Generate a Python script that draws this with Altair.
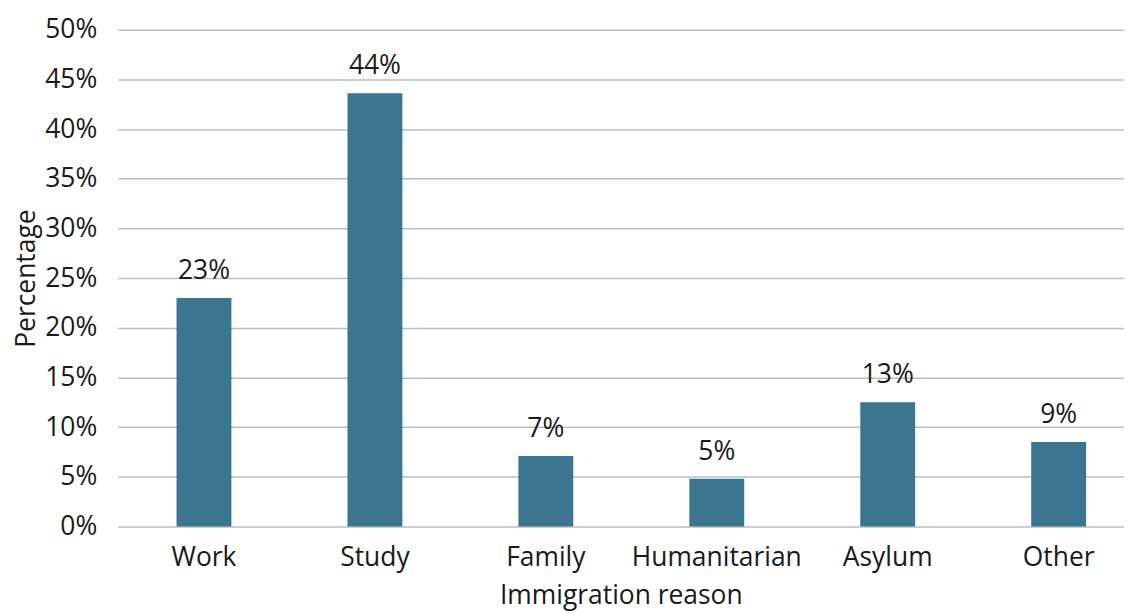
import altair as alt
import pandas as pd

reasons = ["Work", "Study", "Family", "Humanitarian", "Asylum", "Other"]
percent = [23.0, 43.6, 7.1, 4.8, 12.5, 8.5]
y_ticks = [0, 5, 10, 15, 20, 25, 30, 35, 40, 45, 50]

df = pd.DataFrame({"reason": reasons, "pct": percent})

FONT = "Open Sans"
TXT = "#1a1a1a"
BAR = "#3a768f"
FS = 26.5

x = alt.X("reason:N", sort=reasons, title="Immigration reason",
          scale=alt.Scale(paddingInner=0.679, paddingOuter=0.283, align=0.608),
          axis=alt.Axis(labelAngle=0, domain=False, ticks=False, labelPadding=18,
                        titlePadding=12))
y = alt.Y("pct:Q", title="Percentage",
          scale=alt.Scale(domain=[0, 50], nice=False),
          axis=alt.Axis(values=y_ticks, labelExpr="datum.value + '%'", domain=False,
                        ticks=False, labelPadding=21, titlePadding=4, grid=True))

bars = alt.Chart(df).mark_bar(color=BAR).encode(x=x, y=y)
labels = alt.Chart(df).transform_calculate(
    lab="format(round(datum.pct), 'd') + '%'"
).mark_text(baseline="bottom", dy=-13, font=FONT, fontSize=FS, color=TXT).encode(
    x=alt.X("reason:N", sort=reasons), y="pct:Q", text="lab:N")

chart = (bars + labels).properties(
    width=1009, height=498,
    autosize=alt.AutoSizeParams(type="none"),
    padding={"left": 110, "top": 21, "right": 0, "bottom": 88},
).configure_view(stroke=None).configure_axis(
    labelFont=FONT, titleFont=FONT, labelFontSize=FS, titleFontSize=FS,
    labelColor=TXT, titleColor=TXT, titleFontWeight="normal",
    gridColor="#babec3", gridWidth=1.5,
)

chart.save("out.html", embed_options={"renderer": "svg", "actions": False})
